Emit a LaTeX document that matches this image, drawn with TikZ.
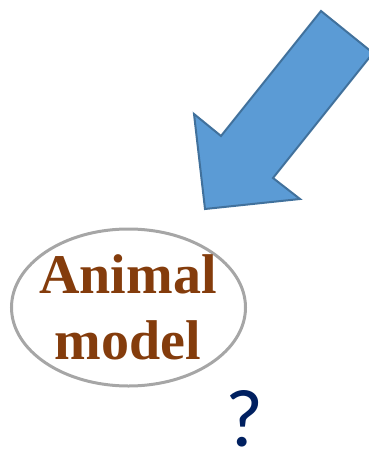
\documentclass[tikz,border=0pt]{standalone}
\usepackage{fontspec}
\usepackage{xcolor}
\newfontfamily\captionserif{Liberation Serif}
\newfontfamily\querysans{Carlito}
\definecolor{arrowfill}{HTML}{5B9BD5}
\definecolor{arrowline}{HTML}{41719C}
\definecolor{modelbrown}{HTML}{843C0C}
\definecolor{ringgray}{HTML}{A6A6A6}
\definecolor{querynavy}{HTML}{002060}

\begin{document}
\begin{tikzpicture}[
    x=1pt, y=-1pt,
    blockarrow/.style={fill=arrowfill, draw=arrowline, line width=2pt, line join=miter},
    ring/.style={draw=ringgray, line width=3pt},
    caption/.style={align=center, text=modelbrown, inner sep=0pt,
        font=\captionserif\bfseries\fontsize{56}{66}\selectfont},
    query/.style={anchor=base, text=querynavy, inner sep=0pt,
        font=\querysans\fontsize{82}{90}\selectfont},
]
\useasboundingbox (0,0) rectangle (369,450);

% --- big arrow pointing at the model ---
\draw[blockarrow] (321,11) -- (373,53) -- (273,178) -- (300,199)
    -- (205,209) -- (194,114) -- (221,136) -- cycle;

% --- animal model ---
\draw[ring] (128.5,307.5) ellipse [x radius=117, y radius=78.5];
\node[caption] (model) at (128,307.5) {Animal\\model};

% --- open question ---
\node[query] (ask) at (244,446) {?};

\end{tikzpicture}
\end{document}
